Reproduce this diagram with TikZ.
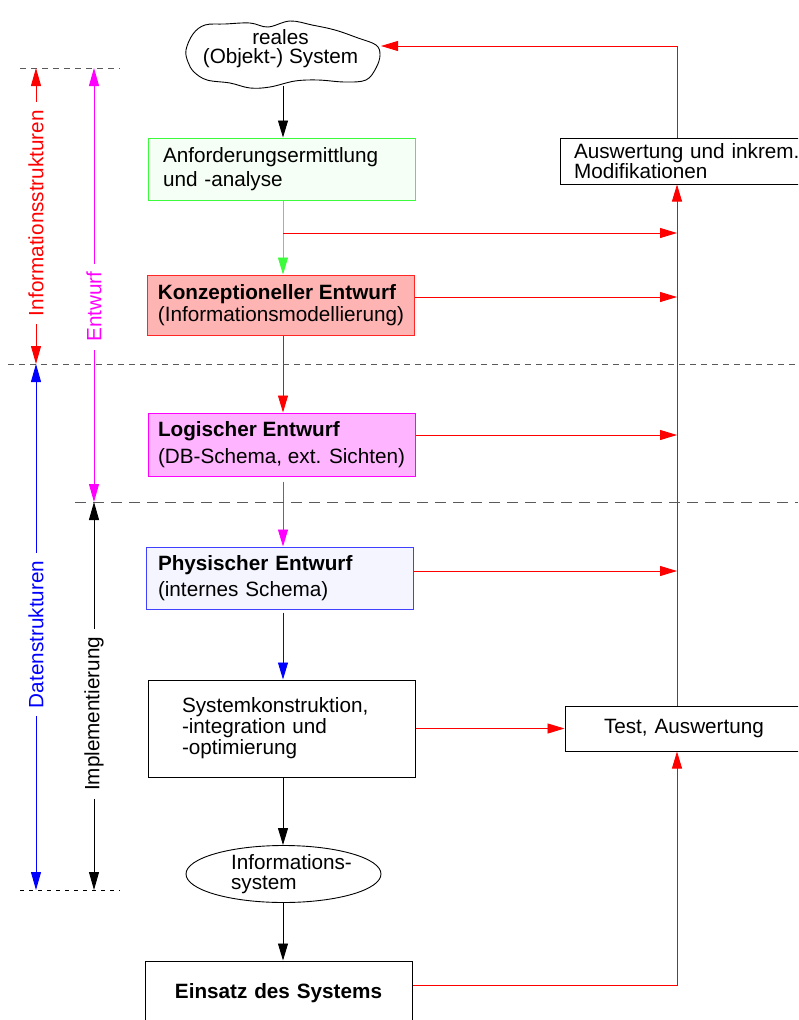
\documentclass[tikz,border=0pt]{standalone}
\usepackage{fontspec}
\setmainfont{Liberation Sans}
\usetikzlibrary{arrows.meta, positioning, calc, shapes.geometric}

\definecolor{fbred}{RGB}{255, 0, 0}
\definecolor{anfgreen}{RGB}{60, 250, 60}
\definecolor{logimag}{RGB}{255, 0, 255}
\definecolor{physblue}{RGB}{0, 0, 255}
\definecolor{anffill}{RGB}{245, 255, 245}
\definecolor{konzfill}{RGB}{255, 180, 180}
\definecolor{logifill}{RGB}{255, 180, 255}
\definecolor{physfill}{RGB}{245, 245, 255}
\definecolor{sepgray}{RGB}{90, 90, 90}

\tikzset{
  txt/.style={font=\fontsize{20.7}{19.5}\selectfont},
  phase/.style={txt, draw, rectangle, line width=1pt, minimum width=267pt, minimum height=62pt,
    text width=237pt, inner xsep=15pt, inner ysep=0pt, align=left},
  wide phase/.style={txt, draw, rectangle, line width=1pt, minimum width=267pt, minimum height=62pt,
    inner sep=0pt, align=left},
  flow/.style={-{Triangle[length=17pt,width=10pt]}, line width=0.9pt},
  fb/.style={flow, fbred},
  span/.style={{Triangle[length=18pt,width=10pt]}-{Triangle[length=18pt,width=10pt]}, line width=0.9pt},
  spanlabel/.style={txt, rotate=90, fill=white, inner xsep=8pt, inner ysep=1pt},
  sepline/.style={sepgray, line width=0.9pt, dash pattern=on 6pt off 5pt}
}

\begin{document}
\begin{tikzpicture}[x=1pt, y=-1pt]
  \useasboundingbox (0,0) rectangle (798,1020);
  \clip (0,0) rectangle (798,1020);

  % Real system (cloud)
  \draw[line width=0.9pt] plot[smooth cycle, tension=0.6] coordinates {
    (186,50) (193,34) (205,25) (225,24) (250,23) (268,27) (290,21) (312,25) (335,30)
    (358,38) (376,45) (380,55) (376,68) (366,80) (345,82) (318,80) (295,81) (270,87)
    (250,88) (230,83) (207,80) (194,72) (188,62)};
  \node[txt, align=center, inner sep=0pt] (real) at (280.5,48.5) {reales\\(Objekt-) System};
  \coordinate (realS) at (283,86);
  \coordinate (realE) at (381,46);

  % Phases
  \node[phase, draw=anfgreen, fill=anffill] (anf) at (281.5,169) {Anforderungsermittlung\\[5pt]und -analyse};
  \node[wide phase, draw=red!85, fill=konzfill, minimum height=60pt] (konz) at (281,305) {\textbf{Konzeptioneller Entwurf}\\[2pt](Informationsmodellierung)};
  \node[wide phase, draw=logimag, fill=logifill, minimum height=63pt] (logi) at (281.5,444.5) {\textbf{Logischer Entwurf}\\[8pt](DB-Schema, ext. Sichten)};
  \node[phase, draw=physblue!75, fill=physfill, text width=243pt, inner xsep=12pt] (phys) at (279.5,578) {\textbf{Physischer Entwurf}\\[6pt](internes Schema)};
  \node[phase, minimum height=97pt, text width=199pt, inner xsep=34pt] (sys) at (281.5,728.5) {Systemkonstruktion,\\[1.5pt]-integration und\\[1.5pt]-optimierung};
  \node[txt, draw, ellipse, line width=0.9pt, minimum width=195pt, minimum height=57pt, align=left, inner sep=0pt] (infsys) at (283.5,874) {\hspace*{16pt}Informations-\\\hspace*{16pt}system};
  \node[phase, minimum height=64pt, align=center] (einsatz) at (278.5,993) {\textbf{Einsatz des Systems}};

  % Evaluation
  \node[phase, minimum width=250pt, minimum height=45pt, text width=172pt, inner xsep=39pt] (test) at (690,728.5) {Test, Auswertung};
  \node[phase, minimum width=260pt, minimum height=46pt, text width=232pt, inner xsep=14pt] (ausw) at (690,161) {Auswertung und inkrem.\\Modifikationen};

  % Main flow
  \coordinate (col) at (283,0);
  \draw[flow] (realS) -- (anf.north -| col);
  \draw[flow, anfgreen] (anf.south -| col) -- (konz.north -| col);
  \draw[flow, fbred] (konz.south -| col) -- (logi.north -| col);
  \draw[flow, logimag, shorten <=5pt] (logi.south -| col) -- (phys.north -| col);
  \draw[flow, physblue, shorten <=3pt] (phys.south -| col) -- (sys.north -| col);
  \draw[flow] (sys.south -| col) -- (infsys.north -| col);
  \draw[flow] (infsys.south -| col) -- (einsatz.north -| col);

  % Feedback
  \coordinate (bus) at (677,0);
  \coordinate (split) at (283,233);
  \draw[fb] (split) -- (split -| bus);
  \draw[fb] ([yshift=8pt]konz.east) -- ([yshift=8pt]konz.east -| bus);
  \draw[fb] ([yshift=9.5pt]logi.east) -- ([yshift=9.5pt]logi.east -| bus);
  \draw[fb] ([yshift=7pt]phys.east) -- ([yshift=7pt]phys.east -| bus);
  \draw[fb] (sys.east) -- (test.west);
  \draw[fb] ([yshift=8pt]einsatz.east) -| (test.south -| bus);
  \draw[fb] (test.north -| bus) -- (ausw.south -| bus);
  \draw[fb] (ausw.north -| bus) |- (realE);

  % Levels
  \draw[sepline] (20,68) -- (120,68);
  \draw[sepline] (8,364) -- (798,364);
  \draw[sepline, dash pattern=on 11pt off 7pt] (75,502) -- (798,502);
  \draw[sepline, black, dash pattern=on 4pt off 5pt] (20,890) -- (120,890);

  \coordinate (infoA) at (36,68);
  \coordinate (infoB) at (36,364);
  \coordinate (datB) at (36,890);
  \coordinate (entA) at (94,68);
  \coordinate (entB) at (94,502);
  \coordinate (implB) at (94,890);

  \draw[span, fbred] (infoA) -- node[spanlabel, text=fbred, pos=0.49] (infolab) {Informationsstrukturen} (infoB);
  \draw[span, physblue] (infoB) -- node[spanlabel, text=physblue, pos=0.514] (datlab) {Datenstrukturen} (datB);
  \draw[span, logimag] (entA) -- node[spanlabel, text=logimag, pos=0.55] (entlab) {Entwurf} (entB);
  \draw[span] (entB) -- node[spanlabel, pos=0.546] (impllab) {Implementierung} (implB);
\end{tikzpicture}
\end{document}
